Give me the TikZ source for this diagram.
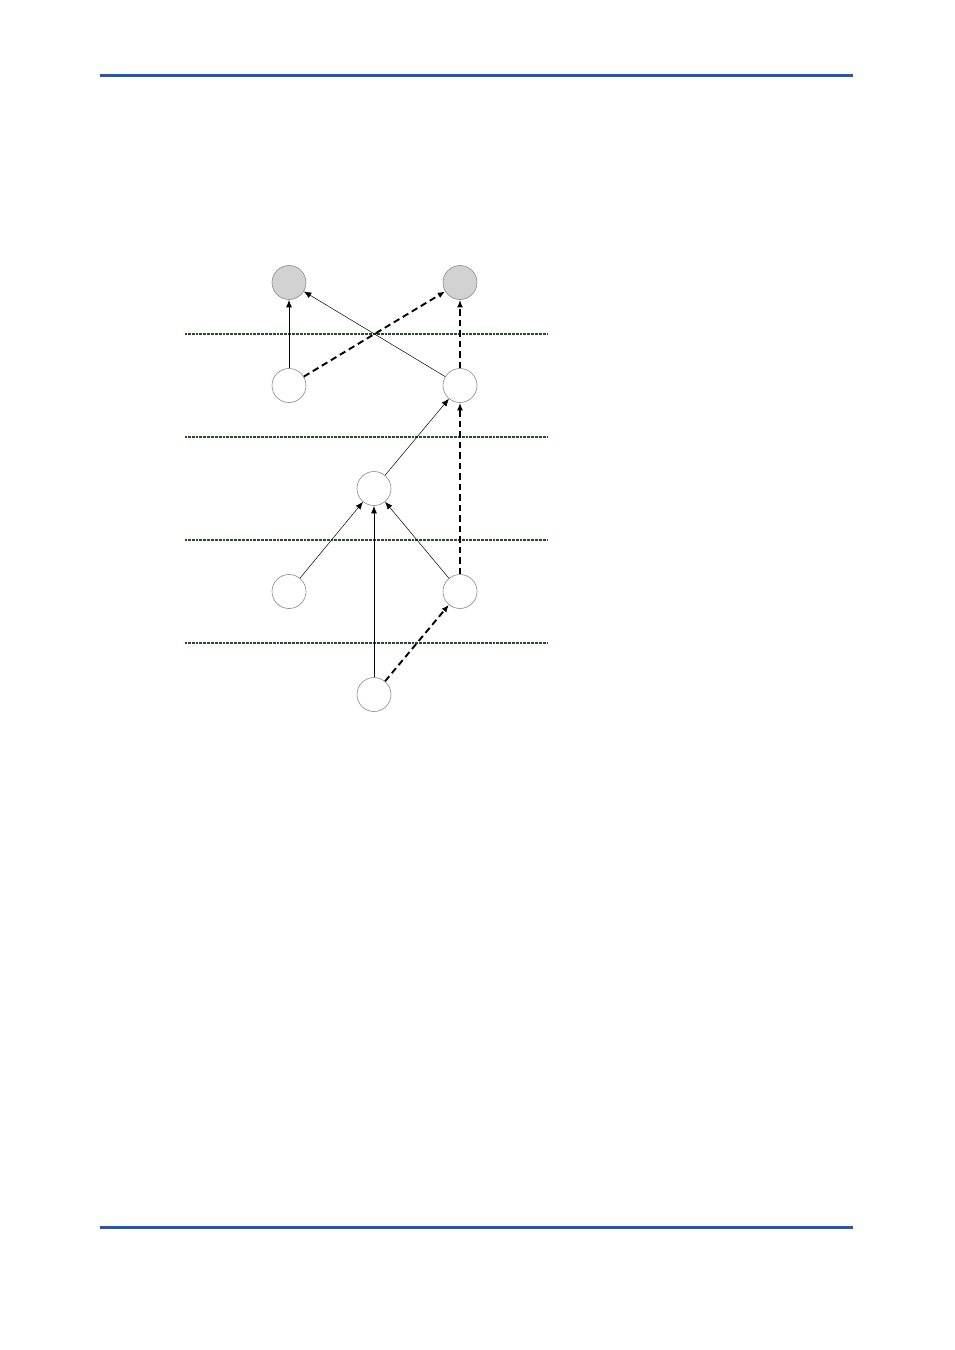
\documentclass[tikz,border=0pt]{standalone}
\usetikzlibrary{arrows.meta}
\definecolor{hdrblue}{HTML}{2257B4}
\definecolor{layergreen}{HTML}{2C4A2C}
\definecolor{nodegrey}{HTML}{D2D2D2}
\definecolor{ringgrey}{HTML}{8A8A8A}
\tikzset{
  unit/.style={circle, draw=ringgrey, line width=0.6pt, minimum size=34pt, inner sep=0pt, fill=white},
  outunit/.style={unit, fill=nodegrey},
  layer/.style={draw=layergreen, line width=2pt, dash pattern=on 1pt off 0.35pt},
  tip/.style={-{Latex[length=7.5pt,width=6pt]}},
  solidlink/.style={tip, line width=1pt},
  thinlink/.style={tip, line width=0.5pt},
  dashlink/.style={tip, line width=1.9pt, dash pattern=on 6.5pt off 4pt},
  rule/.style={draw=hdrblue, line width=3pt}
}
\begin{document}
\begin{tikzpicture}[x=1pt,y=-1pt]
\useasboundingbox (0,0) rectangle (954,1350);
% header/footer rules
\coordinate (h1) at (100,75.5);
\coordinate (h2) at (853,75.5);
\coordinate (f1) at (100,1227.5);
\coordinate (f2) at (853,1227.5);
\draw[rule] (h1) -- (h2);
\draw[rule, line width=2.6pt] (f1) -- (f2);
% layer separators
\foreach \yy/\nm in {333.5/a,436.5/b,539.5/c,642.5/d}{
  \coordinate (L\nm1) at (185,\yy);
  \coordinate (L\nm2) at (547,\yy);
  \draw[layer] (L\nm1) -- (L\nm2);
}
% nodes
\node[outunit] (o1) at (289,282.5) {};
\node[outunit] (o2) at (460,282.5) {};
\node[unit] (h21) at (289,385.5) {};
\node[unit] (h22) at (460,385.5) {};
\node[unit] (h3) at (374,488.5) {};
\node[unit] (h41) at (289,591.5) {};
\node[unit] (h42) at (460,591.5) {};
\node[unit] (i1) at (374,694.5) {};
% links
\draw[solidlink] (h21) -- (o1);
\draw[dashlink] (h21) -- (o2);
\draw[thinlink] (h22) -- (o1);
\draw[dashlink] (h22) -- (o2);
\draw[thinlink] (h3) -- (h22);
\draw[dashlink] (h42) -- (h22);
\draw[thinlink] (h41) -- (h3);
\draw[thinlink] (h42) -- (h3);
\draw[solidlink] (i1) -- (h3);
\draw[dashlink] (i1) -- (h42);
\end{tikzpicture}
\end{document}
